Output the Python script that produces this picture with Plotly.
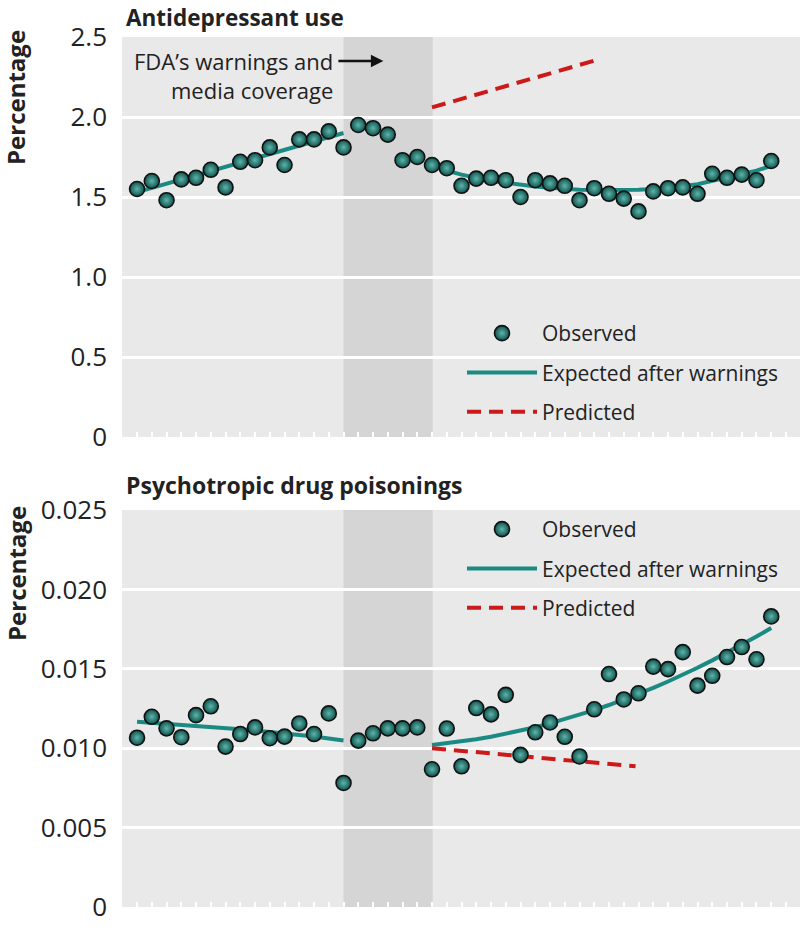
import plotly.graph_objects as go
from plotly.subplots import make_subplots

# ---------------- data ----------------
months = list(range(44))

antidep_observed = [1.55, 1.60, 1.48, 1.61, 1.62, 1.67, 1.56, 1.72, 1.73, 1.81,
                    1.70, 1.86, 1.86, 1.91, 1.81, 1.95, 1.93, 1.89, 1.73, 1.75,
                    1.70, 1.68, 1.57, 1.615, 1.62, 1.605, 1.50, 1.605, 1.585, 1.57,
                    1.48, 1.555, 1.52, 1.49, 1.41, 1.535, 1.555, 1.56, 1.52, 1.645,
                    1.62, 1.64, 1.605, 1.725]

antidep_exp_pre_x = [0, 14]
antidep_exp_pre_y = [1.53, 1.90]
antidep_exp_post_x = list(range(20, 44))
antidep_exp_post_y = [1.70, 1.665, 1.64, 1.62, 1.60, 1.59, 1.575, 1.565, 1.557, 1.55,
                      1.546, 1.544, 1.543, 1.544, 1.546, 1.55, 1.557, 1.567, 1.58, 1.60,
                      1.62, 1.64, 1.665, 1.695]
antidep_pred_x = [20, 31.3]
antidep_pred_y = [2.06, 2.36]

poison_observed = [0.01066, 0.01198, 0.01125, 0.01069, 0.01208, 0.01264, 0.0101, 0.01089, 0.01131, 0.01063,
                   0.01073, 0.01156, 0.01089, 0.01219, 0.00781, 0.01048, 0.01094, 0.01125, 0.01125, 0.01131,
                   0.00867, 0.01124, 0.00886, 0.01253, 0.01213, 0.01336, 0.00958, 0.0110, 0.01162, 0.01072,
                   0.00948, 0.01245, 0.01467, 0.01307, 0.01346, 0.01514, 0.01498, 0.01605, 0.01394, 0.01456,
                   0.01574, 0.01637, 0.0156, 0.0183]

poison_exp_pre_x = list(range(0, 15))
poison_exp_pre_y = [0.01166, 0.01160, 0.01153, 0.01146, 0.01139, 0.01132, 0.01126, 0.01119,
                    0.01111, 0.01103, 0.01094, 0.01084, 0.01073, 0.01061, 0.01048]
poison_exp_post_x = list(range(20, 44))
poison_exp_post_y = [0.01020, 0.01030, 0.01042, 0.01056, 0.01072, 0.01090, 0.01110, 0.01132,
                     0.01156, 0.01182, 0.01210, 0.01240, 0.01272, 0.01306, 0.01342, 0.01380,
                     0.01420, 0.01462, 0.01507, 0.01553, 0.01601, 0.01651, 0.01703, 0.01757]
poison_pred_x = [20, 33.8]
poison_pred_y = [0.0100, 0.00886]

warning_period = [14, 20.05]

antidep_ticks = [0, 0.5, 1.0, 1.5, 2.0, 2.5]
antidep_ticktext = ["0", "0.5", "1.0", "1.5", "2.0", "2.5"]
poison_ticks = [0, 0.005, 0.010, 0.015, 0.020, 0.025]
poison_ticktext = ["0", "0.005", "0.010", "0.015", "0.020", "0.025"]

# ---------------- style ----------------
FONT = "Open Sans"
TEXT = "#222222"
TEAL = "#1b8a82"
RED = "#cc1a1a"
BG = "#e9e9e9"
SHADE = "#d5d5d5"

W, H = 800, 941
L = 122
top_dom = [1 - 437 / H, 1 - 37 / H]
bot_dom = [1 - 907 / H, 1 - 510 / H]

fig = make_subplots(rows=2, cols=1)

marker_style = dict(size=15, color="#0d524c",
                    gradient=dict(type="radial", color="#5fb5ab"),
                    line=dict(color="#111111", width=1.6))
teal_line = dict(color=TEAL, width=4)
red_line = dict(color=RED, width=4, dash="14px,8px")


def add_panel(row, legend, obs, pre_x, pre_y, post_x, post_y, pred_x, pred_y):
    fig.add_trace(go.Scatter(x=pre_x, y=pre_y, mode="lines", line=teal_line,
                             name="Expected after warnings", legend=legend,
                             legendgroup=legend + "e", legendrank=2, showlegend=True,
                             hoverinfo="skip"), row=row, col=1)
    fig.add_trace(go.Scatter(x=post_x, y=post_y, mode="lines", line=teal_line,
                             name="Expected after warnings", legend=legend,
                             legendgroup=legend + "e", showlegend=False,
                             hoverinfo="skip"), row=row, col=1)
    fig.add_trace(go.Scatter(x=pred_x, y=pred_y, mode="lines", line=red_line,
                             name="Predicted", legend=legend, legendgroup=legend + "p",
                             legendrank=3, hoverinfo="skip"), row=row, col=1)
    fig.add_trace(go.Scatter(x=months, y=obs, mode="markers", marker=marker_style,
                             name="Observed", legend=legend, legendgroup=legend + "o",
                             legendrank=1), row=row, col=1)


add_panel(1, "legend", antidep_observed, antidep_exp_pre_x, antidep_exp_pre_y,
          antidep_exp_post_x, antidep_exp_post_y, antidep_pred_x, antidep_pred_y)
add_panel(2, "legend2", poison_observed, poison_exp_pre_x, poison_exp_pre_y,
          poison_exp_post_x, poison_exp_post_y, poison_pred_x, poison_pred_y)

xaxis_common = dict(range=[-1.02, 44.95], showgrid=False, zeroline=False, showline=False,
                    ticks="inside", ticklen=5, tickwidth=2, tickcolor="white",
                    tick0=0, dtick=1, showticklabels=False, automargin=False)
fig.update_xaxes(**xaxis_common)
fig.update_layout(
    xaxis=dict(domain=[0, 1]), xaxis2=dict(domain=[0, 1]),
    yaxis=dict(domain=top_dom, range=[0, 2.5], tickvals=antidep_ticks, ticktext=antidep_ticktext),
    yaxis2=dict(domain=bot_dom, range=[0, 0.025], tickvals=poison_ticks, ticktext=poison_ticktext),
)
fig.update_yaxes(showgrid=True, gridcolor="white", gridwidth=3, zeroline=False, showline=False,
                 ticks="", ticklabelstandoff=14, automargin=False,
                 tickfont=dict(family=FONT, size=26, color=TEXT))

for xr in ["x", "x2"]:
    yr = "y" if xr == "x" else "y2"
    fig.add_shape(type="rect", xref=xr, yref=yr + " domain", x0=warning_period[0],
                  x1=warning_period[1], y0=0, y1=1, fillcolor=SHADE, line_width=0,
                  layer="below")

annotations = [
    dict(text="<b>Antidepressant use</b>", x=124, y=1.0, xref="paper", yref="paper",
         showarrow=False, xanchor="left", yanchor="top",
         font=dict(family=FONT, size=22.5, color=TEXT)),
    dict(text="<b>Psychotropic drug poisonings</b>", x=124, y=1 - 485 / H, xref="paper",
         yref="paper", showarrow=False, xanchor="left", yanchor="middle",
         font=dict(family=FONT, size=23, color=TEXT)),
    dict(text="<b>Percentage</b>", x=16, y=1 - 97 / H, xref="paper", yref="paper",
         showarrow=False, textangle=-90, xanchor="center", yanchor="middle",
         font=dict(family=FONT, size=24, color=TEXT)),
    dict(text="<b>Percentage</b>", x=16, y=1 - 573 / H, xref="paper", yref="paper",
         showarrow=False, textangle=-90, xanchor="center", yanchor="middle",
         font=dict(family=FONT, size=24, color=TEXT)),
    dict(text="FDA’s warnings and<br>media coverage", x=13.4, y=2.26, xref="x", yref="y",
         showarrow=False, xanchor="right", yanchor="middle", align="right",
         font=dict(family=FONT, size=22, color=TEXT)),
    dict(text="", x=16.7, y=2.35, ax=13.55, ay=2.35, xref="x", yref="y", axref="x",
         ayref="y", showarrow=True, arrowhead=2, arrowsize=1, arrowwidth=2.5,
         arrowcolor="#111111"),
]
for a in annotations:
    if a["xref"] == "paper":
        a["x"] = (a["x"] - L) / (W - L)
fig.update_layout(annotations=annotations)

legend_common = dict(font=dict(family=FONT, size=21, color=TEXT), bgcolor="rgba(0,0,0,0)",
                     traceorder="grouped", tracegroupgap=9, xanchor="left", yanchor="top",
                     itemwidth=70)
fig.update_layout(
    legend=dict(x=(462 - L) / (W - L), y=1 - 313 / H, **legend_common),
    legend2=dict(x=(462 - L) / (W - L), y=1 - 509 / H, **legend_common),
    width=W, height=H, margin=dict(l=L, r=0, t=0, b=0, autoexpand=False),
    paper_bgcolor="white", plot_bgcolor=BG,
    font=dict(family=FONT, color=TEXT),
)

fig.write_html("out.html", config={"displayModeBar": False},
               post_script="document.body.style.margin='0';")
